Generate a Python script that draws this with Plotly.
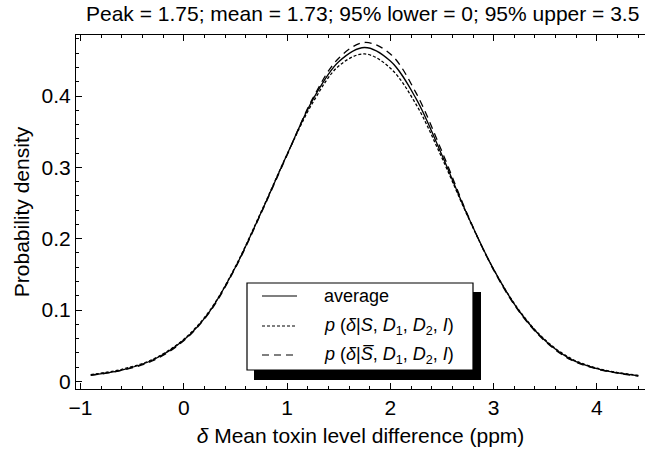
import plotly.graph_objects as go

# delta grid (ppm) and densities for the three posteriors
delta = [-0.9, -0.6, -0.3, 0.0, 0.25, 0.5, 0.75, 1.0, 1.25, 1.5, 1.75,
         2.0, 2.25, 2.5, 2.75, 3.0, 3.25, 3.5, 3.75, 4.0, 4.2, 4.4]
p_average = [0.009, 0.016, 0.030, 0.058, 0.098, 0.160, 0.237, 0.318, 0.395, 0.448, 0.468,
             0.449, 0.396, 0.317, 0.232, 0.157, 0.098, 0.057, 0.031, 0.018, 0.012, 0.008]
p_given_s = [0.0095, 0.017, 0.031, 0.059, 0.099, 0.161, 0.238, 0.318, 0.391, 0.442, 0.459,
             0.439, 0.388, 0.313, 0.231, 0.157, 0.099, 0.058, 0.032, 0.0185, 0.0125, 0.0085]
p_given_not_s = [0.0085, 0.0155, 0.029, 0.057, 0.097, 0.159, 0.236, 0.317, 0.397, 0.453, 0.475,
                 0.459, 0.404, 0.322, 0.233, 0.156, 0.097, 0.056, 0.030, 0.0175, 0.0115, 0.0075]

x_ticks = [-1, 0, 1, 2, 3, 4]
x_tick_text = ["\u22121", "0", "1", "2", "3", "4"]
y_ticks = [0, 0.1, 0.2, 0.3, 0.4]
y_tick_text = ["0", "0.1", "0.2", "0.3", "0.4"]

title_text = "Peak = 1.75; mean = 1.73; 95% lower = 0; 95% upper = 3.5"
legend_labels = [
    "average",
    "<i>p</i> (<i>\u03b4</i>|<i>S</i>, <i>D</i><sub>1</sub>, <i>D</i><sub>2</sub>, <i>I</i>)",
    "<i>p</i> (<i>\u03b4</i>|<i>S\u0305</i>, <i>D</i><sub>1</sub>, <i>D</i><sub>2</sub>, <i>I</i>)",
]
dash_styles = ["solid", "3px,2px", "7px,5px"]

FONT = "Liberation Sans, Arial, sans-serif"
AX = 21
W, H = 645, 454
L, R, T, B = 76, 0, 35, 65
PW, PH = W - L - R, H - T - B


def px(x):
    return (x - L) / PW


def py(y):
    return (H - B - y) / PH


fig = go.Figure()
for ys, name, dash in zip([p_average, p_given_s, p_given_not_s], legend_labels, dash_styles):
    fig.add_trace(go.Scatter(
        x=delta, y=ys, mode="lines", name=name, showlegend=False,
        line=dict(color="black", width=1.3, dash=dash, shape="spline", smoothing=1.0),
    ))

# legend box with drop shadow
shapes = [
    dict(type="rect", xref="paper", yref="paper",
         x0=px(254), x1=px(481), y0=py(380), y1=py(292),
         fillcolor="black", line=dict(width=0), layer="above"),
    dict(type="rect", xref="paper", yref="paper",
         x0=px(247), x1=px(473), y0=py(370), y1=py(283),
         fillcolor="white", line=dict(color="black", width=1.2), layer="above"),
]
annotations = []
rows = [296, 326, 355]
for row, label, dash in zip(rows, legend_labels, dash_styles):
    shapes.append(dict(type="line", xref="paper", yref="paper",
                       x0=px(262), x1=px(297), y0=py(row), y1=py(row),
                       line=dict(color="black", width=1.2, dash=dash), layer="above"))
    annotations.append(dict(xref="paper", yref="paper", x=px(322), y=py(row),
                            xanchor="left", yanchor="middle", showarrow=False,
                            text=label, font=dict(family=FONT, size=18, color="black")))

annotations.append(dict(xref="paper", yref="paper", x=px(641), y=py(14),
                        xanchor="right", yanchor="middle", showarrow=False,
                        text=title_text, font=dict(family=FONT, size=AX, color="black")))

fig.update_layout(
    width=W, height=H,
    margin=dict(l=L, r=R, t=T, b=B, pad=0),
    paper_bgcolor="white", plot_bgcolor="white",
    font=dict(family=FONT, size=AX, color="black"),
    shapes=shapes, annotations=annotations,
    xaxis=dict(
        range=[-1.043, 4.465], tickvals=x_ticks, ticktext=x_tick_text,
        showgrid=False, zeroline=False, showline=True, linecolor="black", linewidth=1.2,
        mirror="ticks", ticks="inside", ticklen=6, tickwidth=1, tickcolor="black",
        minor=dict(dtick=0.2, ticks="inside", ticklen=3, tickwidth=1, tickcolor="black"),
        title=dict(text="<i>\u03b4</i> Mean toxin level difference (ppm)", standoff=10,
                   font=dict(family=FONT, size=AX)),
        tickfont=dict(family=FONT, size=AX),
    ),
    yaxis=dict(
        range=[-0.0106, 0.4855], tickvals=y_ticks, ticktext=y_tick_text,
        showgrid=False, zeroline=False, showline=True, linecolor="black", linewidth=1.2,
        mirror=False, ticks="inside", ticklen=6, tickwidth=1, tickcolor="black",
        minor=dict(dtick=0.02, ticks="inside", ticklen=3, tickwidth=1, tickcolor="black"),
        title=dict(text="Probability density", standoff=6, font=dict(family=FONT, size=AX)),
        tickfont=dict(family=FONT, size=AX),
    ),
)

fig.write_html("out.html")
